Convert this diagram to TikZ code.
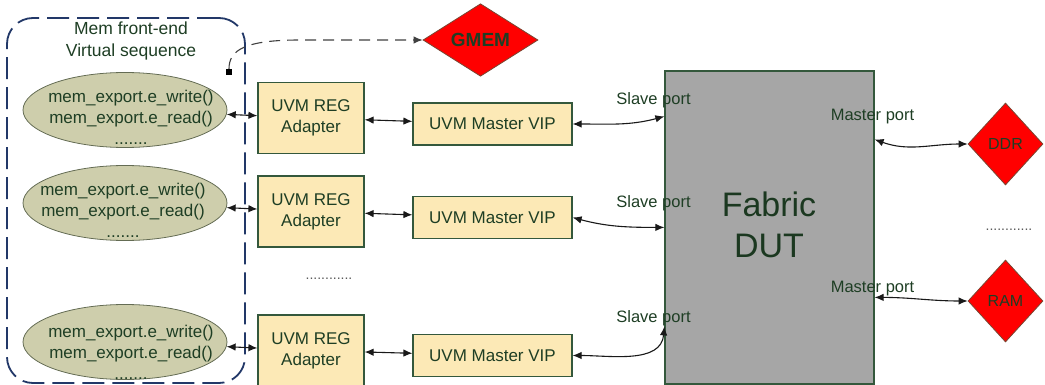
\documentclass[tikz,border=0pt]{standalone}
\usepackage{fontspec}
\setmainfont{Liberation Sans}
\usetikzlibrary{shapes.geometric,arrows.meta,calc}

\definecolor{txtgreen}{RGB}{30,62,36}
\definecolor{edgegreen}{RGB}{52,88,60}
\definecolor{boxfill}{RGB}{252,233,182}
\definecolor{ellfill}{RGB}{206,206,172}
\definecolor{elledge}{RGB}{100,108,84}
\definecolor{seqblue}{RGB}{34,56,104}
\definecolor{dutgray}{RGB}{166,166,166}
\definecolor{memred}{RGB}{255,0,0}
\definecolor{memedge}{RGB}{120,70,50}
\definecolor{wire}{RGB}{25,25,25}

\tikzset{
  every node/.style={text=txtgreen},
  seqframe/.style={draw=seqblue, line width=1.8pt, dash pattern=on 22pt off 8pt,
    rounded corners=26pt, minimum width=238pt, minimum height=365pt, inner sep=0pt},
  memell/.style={ellipse, draw=elledge, line width=0.8pt, fill=ellfill,
    minimum width=204pt, minimum height=75pt, inner sep=0pt},
  memtxt/.style={align=center, font=\fontsize{17}{21}\selectfont, inner sep=0pt},
  regbox/.style={draw=edgegreen, line width=1.2pt, fill=boxfill,
    minimum width=106pt, minimum height=71pt, align=center,
    font=\fontsize{17}{21}\selectfont},
  vipbox/.style={draw=edgegreen, line width=1.2pt, fill=boxfill,
    minimum width=159pt, minimum height=42pt, font=\fontsize{17}{21}\selectfont},
  memdia/.style={diamond, draw=memedge, line width=0.8pt, fill=memred, inner sep=0pt},
  portlbl/.style={font=\fontsize{16.5}{20}\selectfont, inner sep=0pt},
  dotlbl/.style={font=\fontsize{14}{16}\selectfont, text=black!65, inner sep=0pt},
  tip/.tip={Latex[length=9pt,width=7.5pt]},
  biarrow/.style={draw=wire, line width=1.1pt, tip-tip},
}

\begin{document}
\begin{tikzpicture}[x=1pt,y=-1pt]
\useasboundingbox (0,0) rectangle (1045,385);

% virtual sequence frame and its caption
\node[seqframe] (seq) at (126,200.5) {};
\node[memtxt, font=\fontsize{17.5}{22}\selectfont] (seqtitle) at (131,41) {Mem front-end\\Virtual sequence};

% memory front-end sequences
\node[memell] (e1) at (125,110) {};
\node[memtxt] (e1t) at (131,117) {mem\_export.e\_write()\\mem\_export.e\_read()\\.......};
\node[memell] (e2) at (125,203) {};
\node[memtxt] (e2t) at (123,210) {mem\_export.e\_write()\\mem\_export.e\_read()\\.......};
\node[memell] (e3) at (125,342) {};
\node[memtxt] (e3t) at (131,352) {mem\_export.e\_write()\\mem\_export.e\_read()\\.......};

% register adapters
\node[regbox] (a1) at (311,118) {UVM REG\\Adapter};
\node[regbox] (a2) at (311,211.5) {UVM REG\\Adapter};
\node[regbox] (a3) at (311,350.5) {UVM REG\\Adapter};
\node[dotlbl] (adots) at (329,279) {............};

% master VIPs
\node[vipbox] (v1) at (492.5,124) {UVM Master VIP};
\node[vipbox] (v2) at (492.5,217.5) {UVM Master VIP};
\node[vipbox] (v3) at (492.5,355.5) {UVM Master VIP};

% design under test
\node[draw=edgegreen, line width=1.2pt, fill=dutgray, minimum width=209pt,
      minimum height=313pt, inner sep=0pt] (dut) at (769.5,227.5) {};
\node[align=center, font=\fontsize{34}{41}\selectfont, text=txtgreen!90!black] (duttxt) at (769,225) {Fabric\\DUT};

% memories
\node[memdia, minimum width=115pt, minimum height=63pt,
      font=\bfseries\fontsize{19}{22}\selectfont] (gmem) at (480.5,40) {GMEM};
\node[memdia, minimum width=75pt, minimum height=82pt,
      font=\fontsize{16}{18}\selectfont] (ddr) at (1005.5,144) {DDR};
\node[memdia, minimum width=75pt, minimum height=82pt,
      font=\fontsize{16}{18}\selectfont] (ram) at (1005.5,301) {RAM};
\node[dotlbl] (mdots) at (1009,230) {............};

% port attachment points on the DUT
\coordinate (s1) at ($(dut.north west)+(0,46)$);
\coordinate (s2) at ($(dut.north west)+(0,157)$);
\coordinate (s3) at ($(dut.north west)+(0,256)$);
\coordinate (m1) at ($(dut.north east)+(0,69)$);
\coordinate (m2) at ($(dut.north east)+(0,227)$);

% port labels
\node[portlbl] (sp1) at (653.5,100) {Slave port};
\node[portlbl] (sp2) at (653.5,203) {Slave port};
\node[portlbl] (sp3) at (653.5,318) {Slave port};
\node[portlbl] (mp1) at (872.5,117) {Master port};
\node[portlbl] (mp2) at (872.5,289) {Master port};

% sequence to adapter
\draw[biarrow] (e1) -- (a1);
\draw[biarrow] (e2) -- (a2);
\draw[biarrow] (e3) -- (a3);

% adapter to VIP
\draw[biarrow] (a1) -- (v1);
\draw[biarrow] (a2) -- (v2);
\draw[biarrow] (a3) -- (v3);

% VIP to slave ports
\draw[biarrow] (v1.east) to[out=0, in=195] (s1);
\draw[biarrow] (v2.east) to[out=-15, in=180] (s2);
\draw[biarrow] (v3.east) to[out=0, in=-95] (s3);

% master ports to memories
\draw[biarrow] (m1) to[out=-20, in=180] (ddr.west);
\draw[biarrow] (m2) to[out=0, in=180] (ram.west);

% backdoor path to GMEM
\node[fill=black, minimum size=6pt, inner sep=0pt] (bd) at (229,72) {};
\coordinate (bdturn) at (300,40);
\draw[draw=black!75, line width=1.1pt, dash pattern=on 11pt off 7pt, -tip]
  (bd.north) .. controls (229,50) and (245,40) .. (bdturn) -- (gmem.west);
\end{tikzpicture}
\end{document}
